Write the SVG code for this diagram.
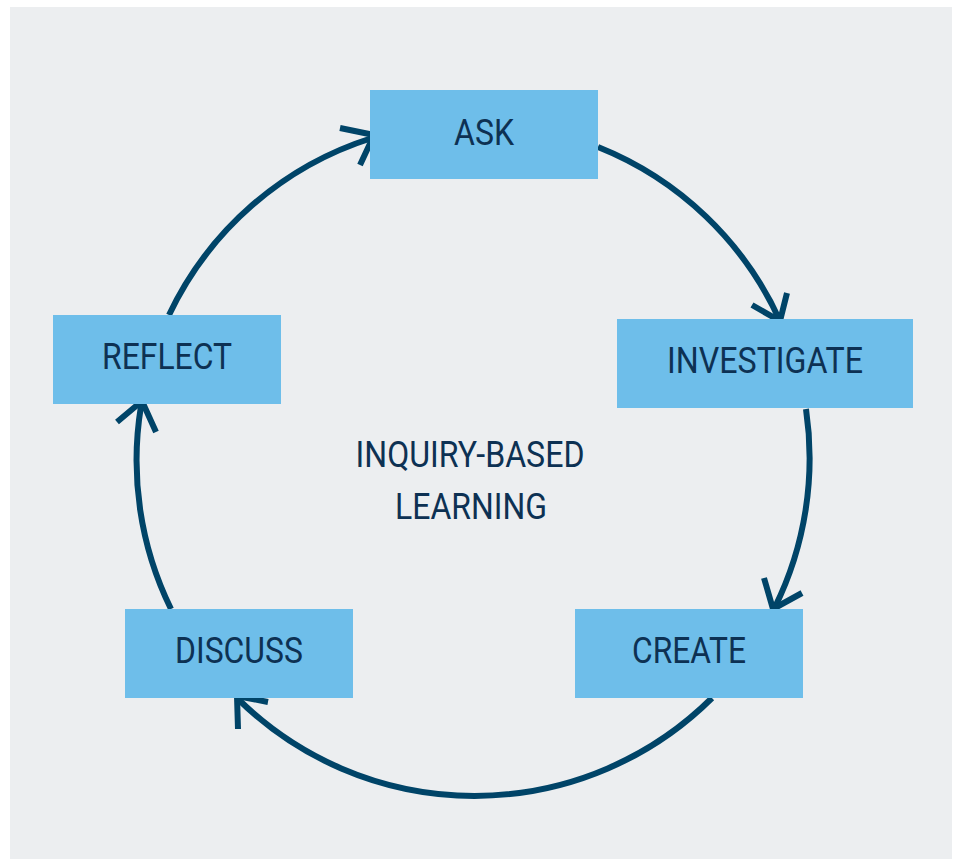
<svg xmlns="http://www.w3.org/2000/svg" width="957" height="859" viewBox="0 0 957 859">
<style>
.box{fill:#6ebeea}
.lbl{font-family:Roboto,"Liberation Sans",sans-serif;font-size:36px;fill:#0d3153;text-anchor:middle}
.arc{fill:none;stroke:#004468;stroke-width:6;stroke-linecap:butt}
.head{fill:none;stroke:#004468;stroke-width:6;stroke-linecap:butt;stroke-linejoin:miter}
</style>
<rect x="0" y="0" width="957" height="859" fill="#ffffff"/>
<rect x="10" y="7" width="942" height="852" fill="#eceef0"/>
<g id="connectors">
<path class="arc" d="M598,147 A337,337 0 0 1 780,321"/>
<polyline class="head" points="752,305 780,321 787,293"/>
<path class="arc" d="M806,409 A337,337 0 0 1 775,607"/>
<polyline class="head" points="764,578 773,609 802,593"/>
<path class="arc" d="M712,698 A337,337 0 0 1 237,698"/>
<polyline class="head" points="268,702 237,696 238,729"/>
<path class="arc" d="M171,609 A337,337 0 0 1 141,406"/>
<polyline class="head" points="117,422 142,401 156,432"/>
<path class="arc" d="M169,315 A337,337 0 0 1 372,138"/>
<polyline class="head" points="340,128 374,135 360,165"/>
</g>
<g id="ask"><rect class="box" x="370" y="90" width="228" height="89"/><text class="lbl" x="484" y="145" textLength="60" lengthAdjust="spacingAndGlyphs">ASK</text></g>
<g id="investigate"><rect class="box" x="617" y="319" width="296" height="89"/><text class="lbl" x="765" y="373" textLength="196" lengthAdjust="spacingAndGlyphs">INVESTIGATE</text></g>
<g id="create"><rect class="box" x="575" y="609" width="228" height="89"/><text class="lbl" x="689" y="663" textLength="114" lengthAdjust="spacingAndGlyphs">CREATE</text></g>
<g id="discuss"><rect class="box" x="125" y="609" width="228" height="89"/><text class="lbl" x="239" y="663" textLength="128" lengthAdjust="spacingAndGlyphs">DISCUSS</text></g>
<g id="reflect"><rect class="box" x="53" y="315" width="228" height="89"/><text class="lbl" x="167" y="369" textLength="130" lengthAdjust="spacingAndGlyphs">REFLECT</text></g>
<g id="center">
<text class="lbl" x="470" y="467" textLength="229" lengthAdjust="spacingAndGlyphs">INQUIRY-BASED</text>
<text class="lbl" x="471" y="519" textLength="152" lengthAdjust="spacingAndGlyphs">LEARNING</text>
</g>
</svg>
